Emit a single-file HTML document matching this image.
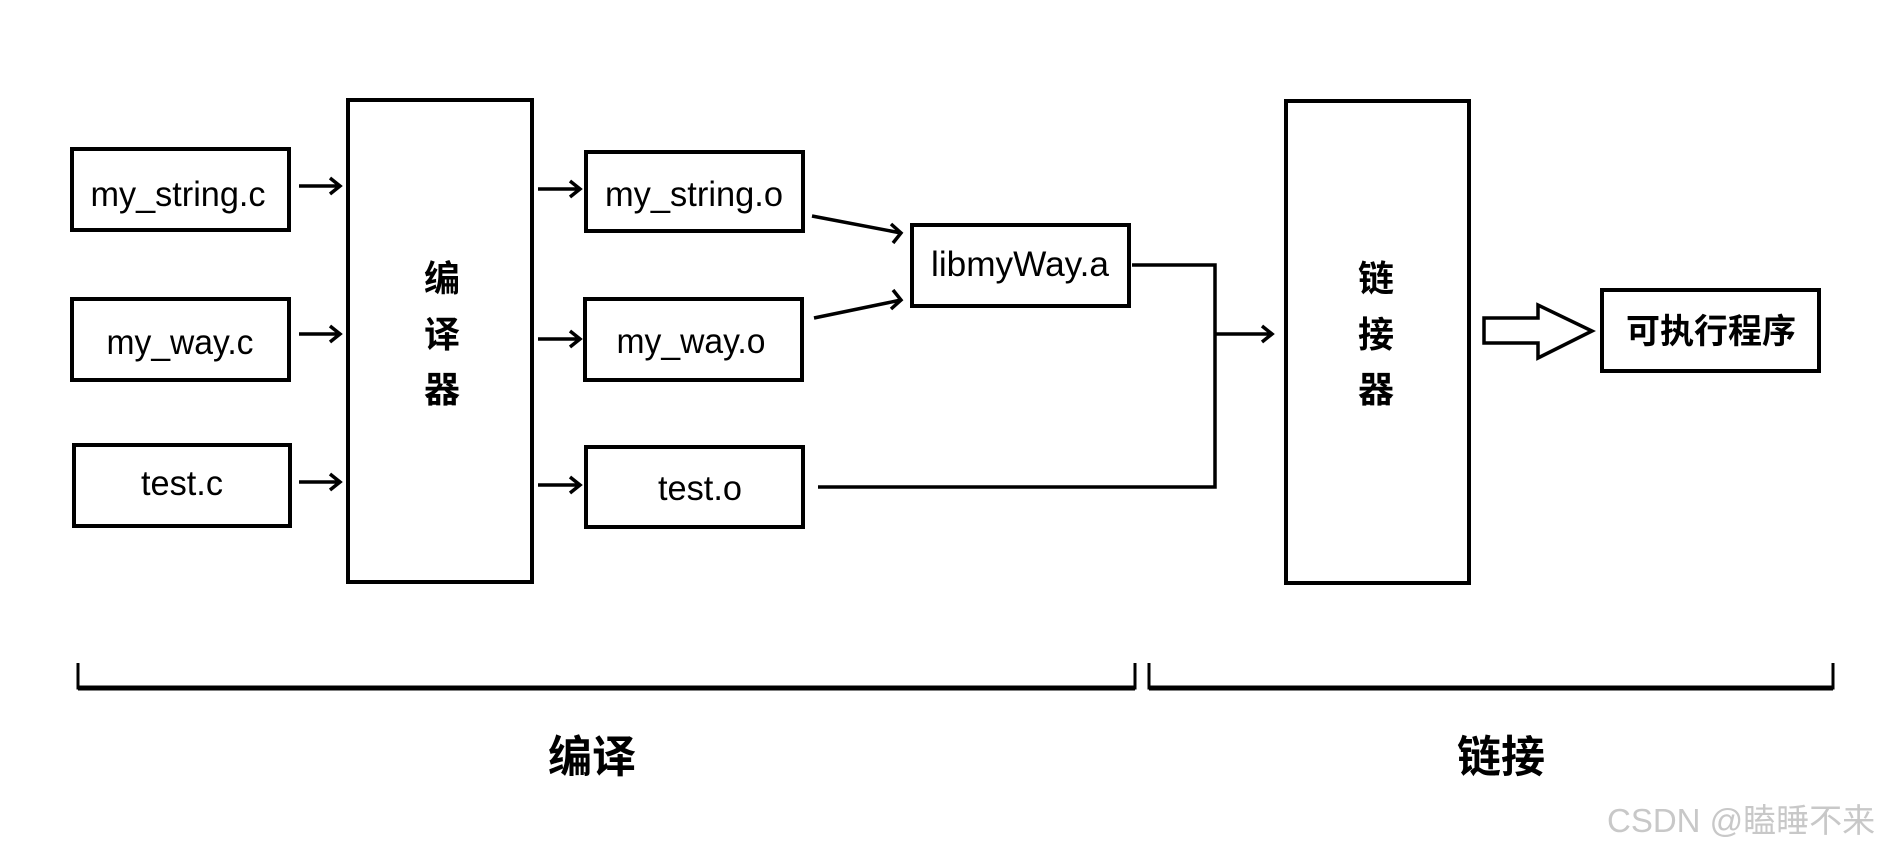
<!DOCTYPE html>
<html><head><meta charset="utf-8"><style>
body{margin:0;background:#fff;}
svg{display:block}
text{font-family:"Liberation Sans","Noto Sans CJK SC",sans-serif;fill:#000}
.l{font-size:35px}
.c{font-size:36px;font-weight:bold;font-family:"Noto Sans CJK SC","WenQuanYi Zen Hei",sans-serif}
</style></head><body>
<svg width="1890" height="851" viewBox="0 0 1890 851" xmlns="http://www.w3.org/2000/svg">
<g fill="none" stroke="#000" stroke-width="4">
<rect x="72" y="149" width="217" height="81"/>
<rect x="72" y="299" width="217" height="81"/>
<rect x="74" y="445" width="216" height="81"/>
<rect x="348" y="100" width="184" height="482"/>
<rect x="586" y="152" width="217" height="79"/>
<rect x="585" y="299" width="217" height="81"/>
<rect x="586" y="447" width="217" height="80"/>
<rect x="912" y="225" width="217" height="81"/>
<rect x="1286" y="101" width="183" height="482"/>
<rect x="1602" y="290" width="217" height="81"/>
<g stroke-width="3.5">
<path d="M299 186H339M330 178L340 186L330 194"/>
<path d="M299 334H339M330 326L340 334L330 342"/>
<path d="M299 482H339M330 474L340 482L330 490"/>
<path d="M538 189H579M570 181L580 189L570 197"/>
<path d="M538 339H579M570 331L580 339L570 347"/>
<path d="M538 485H579M570 477L580 485L570 493"/>
<path d="M812 216L901 233M891 224L901 233L893 243"/>
<path d="M814 318L901 300M893 290L901 300L891 309"/>
<path d="M1132 265H1215V487H818"/>
<path d="M1215 334H1271M1262 326L1272 334L1262 342"/>
</g>
<path d="M1484 318H1538V305L1592 331L1538 358V343H1484Z" stroke-width="3.5"/>
<path d="M78 663V688H1135V663M1149 663V688H1833V663" stroke-width="3"/>
<path d="M78 688H1135M1149 688H1833" stroke-width="5"/>
</g>
<g text-anchor="middle">
<text class="l" x="178" y="206" textLength="175" lengthAdjust="spacingAndGlyphs">my_string.c</text>
<text class="l" x="180" y="354" textLength="147" lengthAdjust="spacingAndGlyphs">my_way.c</text>
<text class="l" x="182" y="495" textLength="82" lengthAdjust="spacingAndGlyphs">test.c</text>
<text class="l" x="694" y="206" textLength="178" lengthAdjust="spacingAndGlyphs">my_string.o</text>
<text class="l" x="691" y="353" textLength="149" lengthAdjust="spacingAndGlyphs">my_way.o</text>
<text class="l" x="700" y="500" textLength="84" lengthAdjust="spacingAndGlyphs">test.o</text>
<text class="l" x="1020" y="276" textLength="178" lengthAdjust="spacingAndGlyphs">libmyWay.a</text>
<text class="c" x="442" y="291">编</text>
<text class="c" x="442" y="347">译</text>
<text class="c" x="442" y="402">器</text>
<text class="c" x="1376" y="291">链</text>
<text class="c" x="1376" y="347">接</text>
<text class="c" x="1376" y="402">器</text>
<text class="c" x="1711" y="343" style="font-size:34px">可执行程序</text>
<text class="c" x="592" y="772" style="font-size:44px">编译</text>
<text class="c" x="1501" y="772" style="font-size:44px">链接</text>
</g>
<text x="1607" y="832" style="font-size:33px;fill:#c8c8c8;font-family:'Liberation Sans','Noto Sans CJK SC',sans-serif">CSDN @瞌睡不来</text>
</svg>
</body></html>
